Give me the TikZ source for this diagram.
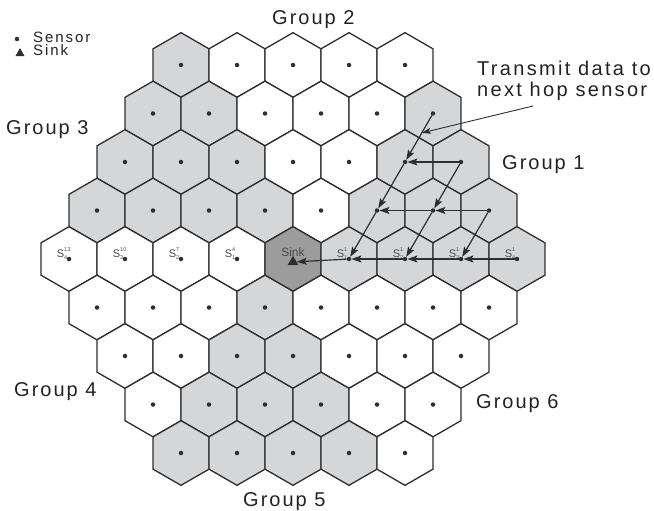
\documentclass[tikz,border=0pt]{standalone}
\usepackage{fontspec}
\setmainfont{Liberation Sans}
\newfontfamily\grpfont[LetterSpace=10]{Liberation Sans}
\newfontfamily\notefont[LetterSpace=11.5]{Liberation Sans}
\newfontfamily\legfont[LetterSpace=13]{Liberation Sans}
\usetikzlibrary{arrows.meta,calc,shapes.geometric}
\definecolor{cellgray}{HTML}{D5D6D8}
\definecolor{sinkgray}{HTML}{9C9C9C}
\definecolor{edge}{HTML}{2E2E2E}
\definecolor{labgray}{HTML}{4A4A4A}
\definecolor{txt}{HTML}{222222}
\newcommand{\slab}[2]{S\rlap{\raisebox{5.5pt}{\fontsize{5.5}{6}\selectfont #1}}\raisebox{-2.5pt}{\fontsize{5.5}{6}\selectfont #2}}
\begin{document}
\begin{tikzpicture}[x=1pt,y=-1pt,
  hexcell/.style={draw=edge, line width=1.3pt, line join=miter},
  dot/.style={circle, fill=edge, inner sep=0pt, minimum size=4.5pt},
  tri/.style={regular polygon, regular polygon sides=3, fill=edge, inner sep=0pt},
  hop/.style={draw=edge, line width=1.2pt, -{Stealth[length=10pt,width=7pt,inset=2pt]}},
  pointer/.style={draw=edge, line width=0.9pt, -{Stealth[length=9pt,width=6pt,inset=2pt]}},
  grp/.style={font=\grpfont\fontsize{20}{22}\selectfont, text=txt, inner sep=0pt, anchor=base west},
  note/.style={font=\notefont\fontsize{20}{22}\selectfont, text=txt, inner sep=0pt, anchor=base west},
  leg/.style={font=\legfont\fontsize{15}{17}\selectfont, text=txt, inner sep=0pt, anchor=base west},
  slabel/.style={font=\fontsize{11}{11}\selectfont, text=labgray, inner sep=0pt, anchor=base east}
]
\useasboundingbox (0,0) rectangle (654,511);

% hexagonal cells and sensors
\foreach \rr in {-4,...,4} {
  \pgfmathtruncatemacro\qmin{max(-4,-4-(\rr))}
  \pgfmathtruncatemacro\qmax{min(4,4-(\rr))}
  \foreach \qq in {\qmin,...,\qmax} {
    \pgfmathsetmacro\cx{293+56*((\qq)+(\rr)/2)}
    \pgfmathsetmacro\cy{259+48.5*(\rr)}
    \pgfmathtruncatemacro\ss{-(\qq)-(\rr)}
    \pgfmathtruncatemacro\shd{((((\rr)<0)&&((\qq)<=0))||(((\rr)<=0)&&(\ss<0))||(((\rr)>0)&&((\qq)<0)&&(\ss<=0)))?1:0}
    \pgfmathtruncatemacro\isc{(((\qq)==0)&&((\rr)==0))?1:0}
    \pgfmathtruncatemacro\ii{(\qq)+4}
    \pgfmathtruncatemacro\jj{(\rr)+4}
    \ifnum\shd=1 \def\fc{cellgray}\else\def\fc{white}\fi
    \ifnum\isc=1 \def\fc{sinkgray}\fi
    \filldraw[hexcell, fill=\fc] (\cx,\cy) +(90:32.33) -- +(30:32.33) -- +(-30:32.33) -- +(-90:32.33) -- +(-150:32.33) -- +(150:32.33) -- cycle;
    \ifnum\isc=0 \node[dot] (d\ii\jj) at (\cx,\cy) {}; \fi
  }
}

% sink
\node[font=\fontsize{12}{12}\selectfont, text=labgray, inner sep=0pt, anchor=base] (sinklabel) at (293,256) {Sink};
\node[tri, minimum size=12.5pt] (sink) at (293,262) {};

% sensor labels
\foreach \n/\a/\b in {04/13/4, 14/10/3, 24/7/2, 34/4/1, 54/1/1, 64/1/2, 74/1/3, 84/1/4}
  \node[slabel] (lab\n) at ($(d\n)+(-1.5,-2)$) {\slab{\a}{\b}};

% multi-hop transmission in group 1
\draw[hop] (d81) -- (d72);
\draw[hop] (d72) -- (d63);
\draw[hop] (d63) -- (d54);
\draw[hop] (d82) -- (d72);
\draw[hop] (d82) -- (d73);
\draw[hop] (d73) -- (d64);
\draw[hop] (d83) -- (d73);
\draw[hop] (d73) -- (d63);
\draw[hop] (d83) -- (d74);
\draw[hop] (d84) -- (d74);
\draw[hop] (d74) -- (d64);
\draw[hop] (d64) -- (d54);
\draw[hop] (d54) -- (sink);

% group labels
\node[grp] (g1) at (502,169) {Group 1};
\node[grp] (g2) at (272,25) {Group 2};
\node[grp] (g3) at (6,135) {Group 3};
\node[grp] (g4) at (14,396) {Group 4};
\node[grp] (g5) at (243,506) {Group 5};
\node[grp] (g6) at (476,408) {Group 6};

% annotation
\node[note] (tx1) at (477,76) {Transmit data to};
\node[note] (tx2) at (477,97) {next hop sensor};
\coordinate (pstart) at (533,106);
\coordinate (ptip) at ($(d81)!0.4!(d72)$);
\draw[pointer] (pstart) -- (ptip);

% legend
\node[dot] (legdot) at (17,39) {};
\node[leg] (legsensor) at (33,43) {Sensor};
\node[tri, minimum size=10.5pt] (legtri) at (20,53.4) {};
\node[leg] (legsink) at (33,56) {Sink};
\end{tikzpicture}
\end{document}
